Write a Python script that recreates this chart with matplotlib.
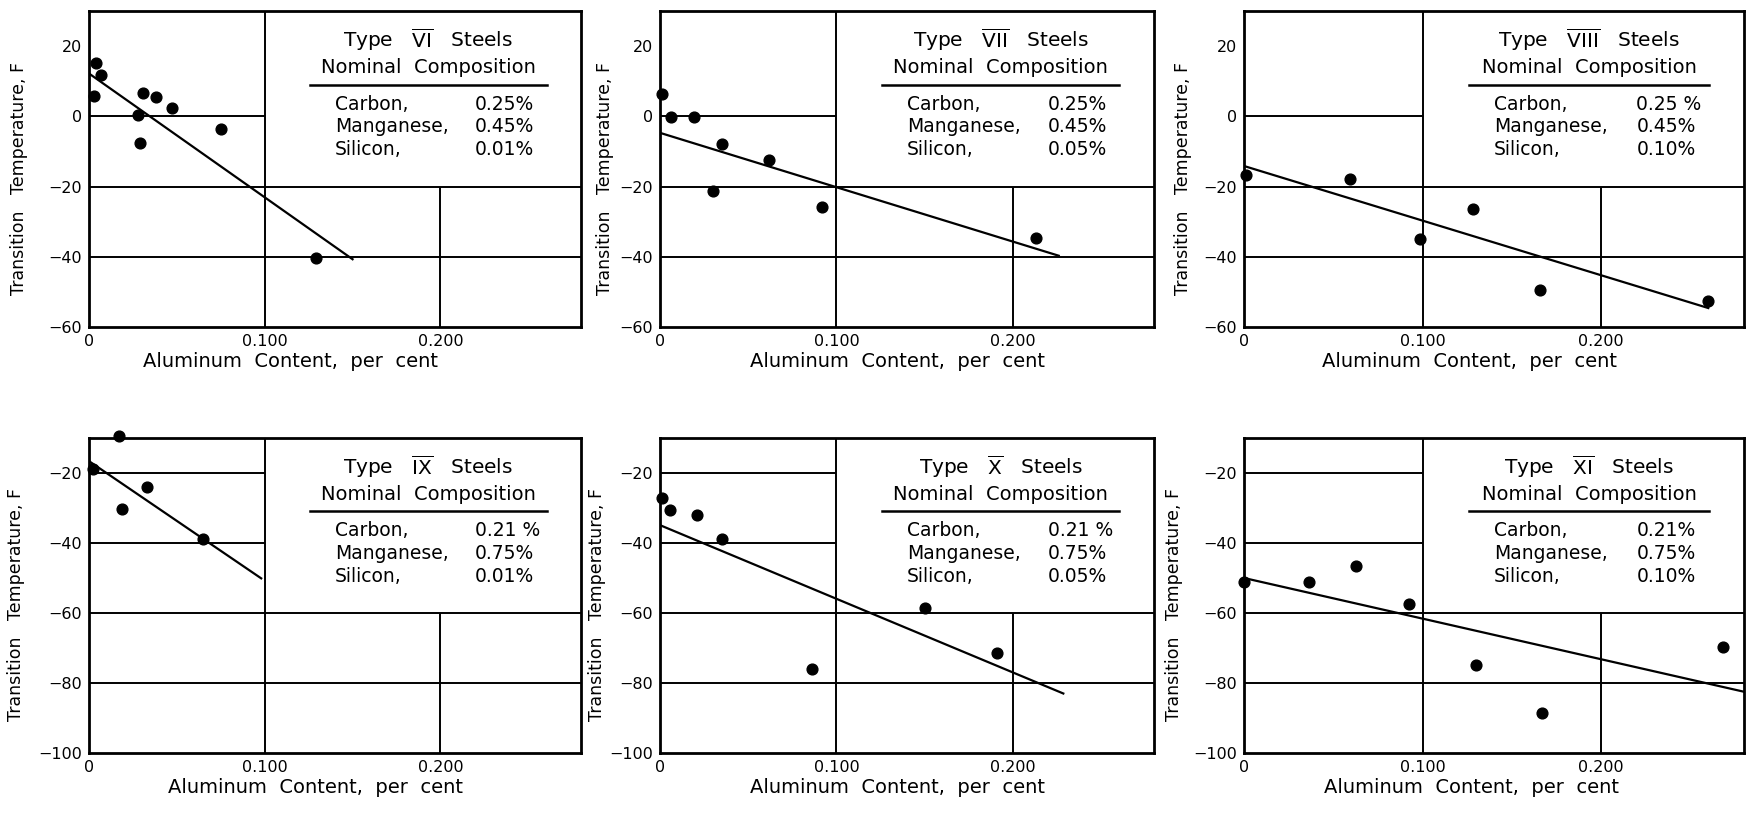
import matplotlib
matplotlib.use("Agg")
import matplotlib.pyplot as plt

plt.rcParams['font.family'] = ['DejaVu Sans']
plt.rcParams['mathtext.fontset'] = 'dejavusans'

# --- data ---
types = ["VI", "VII", "VIII", "IX", "X", "XI"]
carbon = ["0.25%", "0.25%", "0.25 %", "0.21 %", "0.21 %", "0.21%"]
manganese = ["0.45%", "0.45%", "0.45%", "0.75%", "0.75%", "0.75%"]
silicon = ["0.01%", "0.05%", "0.10%", "0.01%", "0.05%", "0.10%"]

al_VI = [0.004, 0.007, 0.003, 0.031, 0.038, 0.0475, 0.028, 0.029, 0.075, 0.129]
tt_VI = [15.2, 11.7, 5.7, 6.6, 5.6, 2.3, 0.5, -7.6, -3.7, -40.3]
fit_x_VI = [0.0, 0.150]
fit_y_VI = [12.2, -40.7]

al_VII = [0.001, 0.0065, 0.019, 0.035, 0.062, 0.030, 0.092, 0.213]
tt_VII = [6.4, -0.3, -0.3, -8.0, -12.5, -21.4, -25.8, -34.7]
fit_x_VII = [0.0, 0.226]
fit_y_VII = [-4.7, -39.7]

al_VIII = [0.001, 0.0595, 0.0988, 0.128, 0.166, 0.260]
tt_VIII = [-16.7, -17.9, -34.8, -26.5, -49.6, -52.6]
fit_x_VIII = [0.001, 0.260]
fit_y_VIII = [-14.3, -54.6]

al_IX = [0.017, 0.0024, 0.019, 0.033, 0.065]
tt_IX = [-9.5, -18.9, -30.3, -23.9, -38.8]
fit_x_IX = [0.0, 0.098]
fit_y_IX = [-16.6, -50.1]

al_X = [0.0012, 0.0056, 0.021, 0.035, 0.086, 0.150, 0.191]
tt_X = [-27.1, -30.7, -32.1, -38.9, -75.9, -58.7, -71.3]
fit_x_X = [0.0, 0.2286]
fit_y_X = [-34.9, -83.0]

al_XI = [0.0, 0.0364, 0.0625, 0.0926, 0.130, 0.1668, 0.268]
tt_XI = [-51.2, -51.2, -46.7, -57.5, -74.8, -88.5, -69.6]
fit_x_XI = [0.0, 0.280]
fit_y_XI = [-50.0, -82.5]

al_data = [al_VI, al_VII, al_VIII, al_IX, al_X, al_XI]
tt_data = [tt_VI, tt_VII, tt_VIII, tt_IX, tt_X, tt_XI]
fit_x = [fit_x_VI, fit_x_VII, fit_x_VIII, fit_x_IX, fit_x_X, fit_x_XI]
fit_y = [fit_y_VI, fit_y_VII, fit_y_VIII, fit_y_IX, fit_y_X, fit_y_XI]

top_yticks = [20, 0, -20, -40, -60]
bot_yticks = [-20, -40, -60, -80, -100]
xticks = [0, 0.1, 0.2]
xticklabels = ["0", "0.100", "0.200"]

W, H = 1747, 814
fig = plt.figure(figsize=(W / 100, H / 100), dpi=100)

col_left = [89, 660, 1244]
col_width = [492, 494, 500]
row_top = [11, 438]
row_height = [316, 315]
ylab_x = [[-0.124, -0.094, -0.104], [-0.13, -0.109, -0.122]]
xlab_x = [[0.41, 0.48, 0.45], [0.46, 0.48, 0.456]]

for i in range(6):
    r, c = divmod(i, 3)
    ax = fig.add_axes([col_left[c] / W, 1 - (row_top[r] + row_height[r]) / H,
                       col_width[c] / W, row_height[r] / H])
    if r == 0:
        ymin, ymax = -60, 30
        ax.set_yticks(top_yticks)
        # partial grid, left open where the composition table sits
        ax.vlines(0.1, ymin, ymax, color='k', lw=1.4)
        ax.vlines(0.2, ymin, -20, color='k', lw=1.4)
        ax.hlines(0, 0, 0.1, color='k', lw=1.4)
        ax.hlines([-20, -40], 0, 0.28, color='k', lw=1.4)
    else:
        ymin, ymax = -100, -10
        ax.set_yticks(bot_yticks)
        ax.vlines(0.1, ymin, ymax, color='k', lw=1.4)
        ax.vlines(0.2, ymin, -60, color='k', lw=1.4)
        ax.hlines([-20, -40], 0, 0.1, color='k', lw=1.4)
        ax.hlines([-60, -80], 0, 0.28, color='k', lw=1.4)
    ax.set_xlim(0, 0.28)
    ax.set_ylim(ymin, ymax)
    ax.set_xticks(xticks)
    ax.set_xticklabels(xticklabels)
    ax.tick_params(length=0, labelsize=11.5, pad=5)

    ax.plot(fit_x[i], fit_y[i], color='k', lw=1.6, zorder=3)
    ax.scatter(al_data[i], tt_data[i], s=60, color='k', zorder=4, clip_on=False)

    for sp in ax.spines.values():
        sp.set_linewidth(2.0)

    ax.set_xlabel("Aluminum  Content,  per  cent", fontsize=14)
    ax.xaxis.set_label_coords(xlab_x[r][c], -0.08)
    ax.set_ylabel("Transition   Temperature, F", fontsize=12.5)
    ax.yaxis.set_label_coords(ylab_x[r][c], 0.47)

    # composition table
    tr = ax.transAxes
    ax.text(0.69, 0.91, r"Type   $\overline{\mathrm{" + types[i] + r"}}$   Steels",
            transform=tr, ha='center', va='center', fontsize=14.5)
    ax.text(0.69, 0.82, "Nominal  Composition", transform=tr,
            ha='center', va='center', fontsize=14)
    ax.plot([0.45, 0.93], [0.767, 0.767], transform=tr, color='k', lw=1.8)
    rows = [("Carbon,", carbon[i]), ("Manganese,", manganese[i]), ("Silicon,", silicon[i])]
    for k, (name, val) in enumerate(rows):
        yy = 0.705 - 0.072 * k
        ax.text(0.50, yy, name, transform=tr, ha='left', va='center', fontsize=13.5)
        ax.text(0.785, yy, val, transform=tr, ha='left', va='center', fontsize=13.5)

fig.savefig("out.png", dpi=100)
